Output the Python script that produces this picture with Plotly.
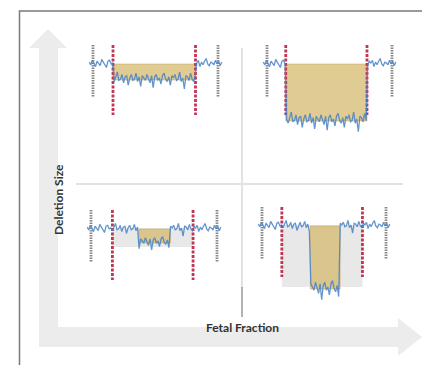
import numpy as np
import plotly.graph_objects as go

W, H = 422, 365

# ---------------- data ----------------
panel_names = ["large deletion, low FF", "large deletion, high FF",
               "small deletion, low FF", "small deletion, high FF"]
boundary_left = [16, 15, 17, 16]       # red dashed region boundaries (genomic %)
boundary_right = [82, 80, 81, 81]
deletion_start = [16, 15, 38, 39]
deletion_end = [82, 80, 63, 63]
signal_drop = [15, 56, 13, 62]          # depth of the signal inside the deletion
expected_drop = [0, 0, 19, 62]          # grey "expected" box for small deletions
noise_scale_in_deletion = [1.2, 1.4, 1.1, 1.6]
noise = [1, -2, 3, -1, -4, 2, 0, -3, 4, 1, -2, -5, 2, 3, -1, 0, -3, 2, 5, -2,
         -1, 3, -4, 1, 2, -6, 0, 3, -2, -1, 4, -3, 1, -7, 2, 0, -2, 3, -1, -4,
         2, -8, 1, 3, -2, 0, -5, 2, 4, -1, -3, 1, -6, 2, 0, 3, -2, -1, 5, -3,
         0, -9, 2, 1, -2, 4, -1, -3, 2, 0, 3, -4, 1, -2, 2, 5, -1, -3, 1, 0,
         -2, 3, -1, 2, -3, 1]
x_label = "Fetal Fraction"
y_label = "Deletion Size"

# ---------------- layout helpers ----------------
def px(x):
    return x / W

def py(y):
    return 1 - y / H

# panel placement in pixels: (gray-left, gray-right, baseline)
panel_px = [(93, 218, 63), (267, 392, 63), (91, 217, 228), (262, 386, 225)]
XR = [-5, 105]
YR = [-75, 25]

fig = go.Figure()
layout = dict(width=W, height=H, margin=dict(l=0, r=0, t=0, b=0),
              paper_bgcolor="white", plot_bgcolor="rgba(0,0,0,0)",
              showlegend=False)
shapes = []

# background frame, arrows and dividers
shapes.append(dict(type="path", xref="paper", yref="paper",
                   path=f"M {px(19.5)},{py(380)} L {px(19.5)},{py(11)} L {px(430)},{py(11)}",
                   line=dict(color="#7a7a7a", width=1.5)))
arrow = [(39, 347), (39, 48), (29, 48), (48, 29), (67, 48), (58, 48), (58, 327),
         (398, 327), (398, 318), (422, 337), (398, 356), (398, 347)]
shapes.append(dict(type="path", xref="paper", yref="paper",
                   path="M " + " L ".join(f"{px(a)},{py(b)}" for a, b in arrow) + " Z",
                   fillcolor="#ececec", line=dict(width=0), layer="below"))
shapes.append(dict(type="line", xref="paper", yref="paper", x0=px(76), x1=px(403),
                   y0=py(184), y1=py(184), line=dict(color="#e2e2e2", width=2)))
shapes.append(dict(type="line", xref="paper", yref="paper", x0=px(242), x1=px(242),
                   y0=py(48), y1=py(288), line=dict(color="#e2e2e2", width=2)))
shapes.append(dict(type="line", xref="paper", yref="paper", x0=px(242), x1=px(242),
                   y0=py(287), y1=py(317), line=dict(color="#9a9a9a", width=1.5)))

xs = np.linspace(-3, 103, len(noise))

for i in range(4):
    gl, gr, base = panel_px[i]
    scale = (gr - gl) / 100.0
    x0p = gl - (0 - XR[0]) * scale
    x1p = gr + (XR[1] - 100) * scale
    y0p = base - YR[1]
    y1p = base - YR[0]
    k = "" if i == 0 else str(i + 1)
    layout["xaxis" + k] = dict(domain=[px(x0p), px(x1p)], range=XR, visible=False,
                               anchor="y" + k, fixedrange=True)
    layout["yaxis" + k] = dict(domain=[py(y1p), py(y0p)], range=YR, visible=False,
                               anchor="x" + k, fixedrange=True)
    xr, yr = "x" + k, "y" + k

    # expected (grey) box
    if expected_drop[i] > 0:
        shapes.append(dict(type="rect", xref=xr, yref=yr, x0=boundary_left[i],
                           x1=boundary_right[i], y0=0, y1=-expected_drop[i],
                           fillcolor="#e8e8e8", line=dict(width=0), layer="below"))
    # deletion (yellow) box
    shapes.append(dict(type="rect", xref=xr, yref=yr, x0=deletion_start[i],
                       x1=deletion_end[i], y0=-1, y1=-signal_drop[i] - 2,
                       fillcolor="rgba(214,185,110,0.75)",
                       line=dict(color="rgba(190,160,90,0.6)", width=0.8), layer="below"))

    # grey boundary lines
    for gx in (0, 100):
        fig.add_trace(go.Scatter(x=[gx, gx], y=[18, -34], mode="lines", xaxis=xr, yaxis=yr,
                                 line=dict(color="#8a8a8a", width=2.8, dash="1.5px,1px"),
                                 hoverinfo="skip"))
    # red boundary lines
    for rx in (boundary_left[i], boundary_right[i]):
        fig.add_trace(go.Scatter(x=[rx, rx], y=[18, -52], mode="lines", xaxis=xr, yaxis=yr,
                                 line=dict(color="#c03552", width=2.8, dash="3px,1.5px"),
                                 hoverinfo="skip"))

    # signal trace
    ys = []
    for j, xv in enumerate(xs):
        inside = deletion_start[i] <= xv <= deletion_end[i]
        if inside:
            ys.append(-signal_drop[i] + noise[j] * noise_scale_in_deletion[i])
        else:
            ys.append(noise[j] * 0.9)
    fig.add_trace(go.Scatter(x=xs, y=ys, mode="lines", xaxis=xr, yaxis=yr,
                             line=dict(color="rgba(70,130,200,0.85)", width=1.3),
                             hoverinfo="skip", name=panel_names[i]))

layout["shapes"] = shapes
layout["annotations"] = [
    dict(xref="paper", yref="paper", x=px(48.5), y=py(200), text=y_label, showarrow=False,
         textangle=-90, font=dict(family="Lato", size=12, color="#333333", weight="bold")),
    dict(xref="paper", yref="paper", x=px(242), y=py(337), text=x_label, showarrow=False,
         font=dict(family="Lato", size=12, color="#333333", weight="bold")),
]
fig.update_layout(**layout)
fig.write_html("out.html")
